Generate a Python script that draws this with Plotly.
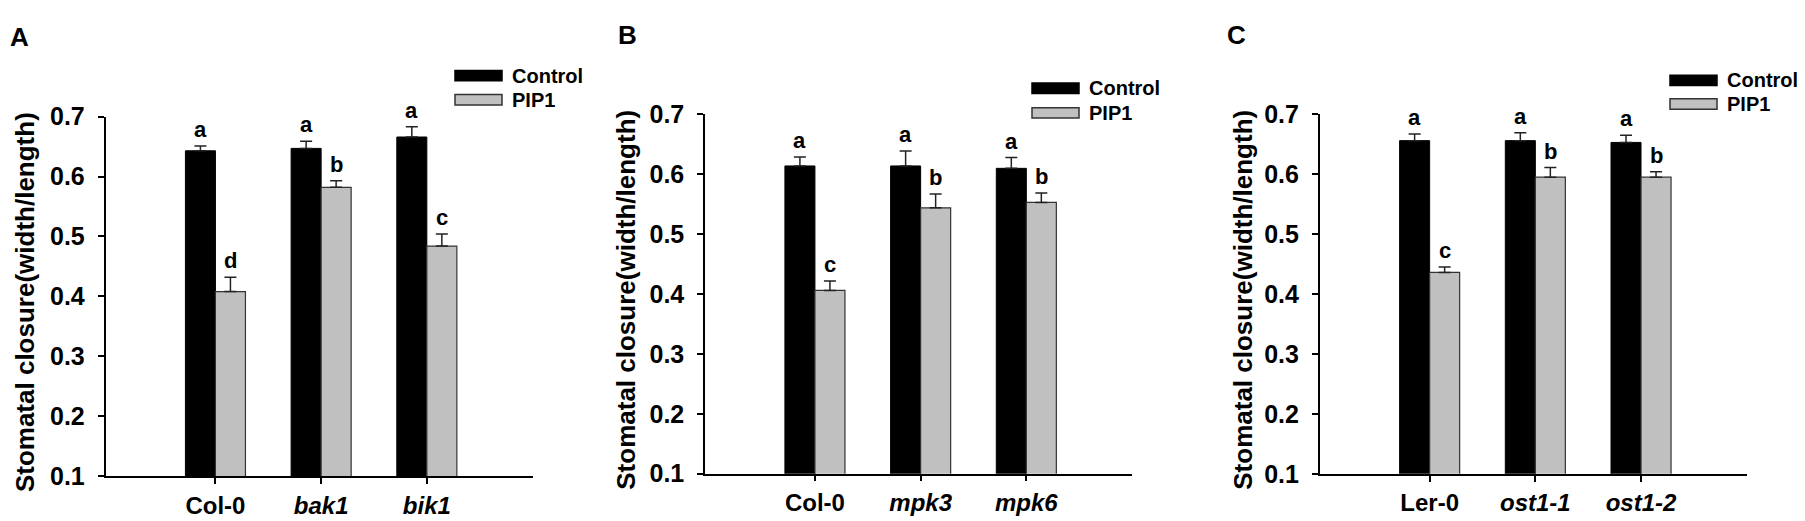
import plotly.graph_objects as go

# panel A
cats_a = ["Col-0", "bak1", "bik1"]
ctrl_a = [0.643, 0.647, 0.666]
ctrl_err_a = [0.008, 0.012, 0.017]
pip_a = [0.408, 0.582, 0.484]
pip_err_a = [0.024, 0.011, 0.020]
ctrl_let_a = ["a", "a", "a"]
pip_let_a = ["d", "b", "c"]

# panel B
cats_b = ["Col-0", "mpk3", "mpk6"]
ctrl_b = [0.614, 0.614, 0.610]
ctrl_err_b = [0.015, 0.025, 0.018]
pip_b = [0.406, 0.544, 0.553]
pip_err_b = [0.016, 0.023, 0.016]
ctrl_let_b = ["a", "a", "a"]
pip_let_b = ["c", "b", "b"]

# panel C
cats_c = ["Ler-0", "ost1-1", "ost1-2"]
ctrl_c = [0.656, 0.656, 0.653]
ctrl_err_c = [0.011, 0.013, 0.012]
pip_c = [0.436, 0.595, 0.595]
pip_err_c = [0.009, 0.016, 0.009]
ctrl_let_c = ["a", "a", "a"]
pip_let_c = ["c", "b", "b"]

wild_types = ["Col-0", "Ler-0"]
y_ticks = [0.1, 0.2, 0.3, 0.4, 0.5, 0.6, 0.7]
y_title = "Stomatal closure(width/length)"

W, H = 1805, 521
FONT = "Liberation Sans, Arial, sans-serif"
GREY = "#c0c0c0"
BARGAP = 0.432
OFF = (1 - BARGAP) / 4

panels = [
    dict(name="A", cats=cats_a, ctrl=ctrl_a, ce=ctrl_err_a, pip=pip_a, pe=pip_err_a,
         cl=ctrl_let_a, pl=pip_let_a, x0=97.5, y0=480.0, y1=100.0,
         lab=(11, 16), leg=(447, 56.7, 82.2), ytit=17),
    dict(name="B", cats=cats_b, ctrl=ctrl_b, ce=ctrl_err_b, pip=pip_b, pe=pip_err_b,
         cl=ctrl_let_b, pl=pip_let_b, x0=697.0, y0=477.3, y1=97.7,
         lab=(619, 14), leg=(1024, 70, 96), ytit=618),
    dict(name="C", cats=cats_c, ctrl=ctrl_c, ce=ctrl_err_c, pip=pip_c, pe=pip_err_c,
         cl=ctrl_let_c, pl=pip_let_c, x0=1311.7, y0=477.5, y1=97.5,
         lab=(1228, 14), leg=(1662, 61.7, 86.7), ytit=1235),
]

SPACING = 105.7
XR = [-1.04, 3.0]

fig = go.Figure()
annotations = []
shapes = []

for k, p in enumerate(panels):
    sfx = "" if k == 0 else str(k + 1)
    xa, ya = "x" + sfx, "y" + sfx
    fig.add_trace(go.Bar(
        x=p["cats"], y=p["ctrl"], name="Control", xaxis=xa, yaxis=ya,
        marker=dict(color="black", line=dict(color="black", width=1)),
        error_y=dict(type="data", array=p["ce"], arrayminus=[0] * 3, symmetric=False,
                     color="#222222", thickness=1.5, width=6),
        showlegend=False))
    fig.add_trace(go.Bar(
        x=p["cats"], y=p["pip"], name="PIP1", xaxis=xa, yaxis=ya,
        marker=dict(color=GREY, line=dict(color="#333333", width=1.2)),
        error_y=dict(type="data", array=p["pe"], arrayminus=[0] * 3, symmetric=False,
                     color="#222222", thickness=1.5, width=6),
        showlegend=False))

    x1 = p["x0"] + (XR[1] - XR[0]) * SPACING
    ticktext = [c if c in wild_types else "<i>" + c + "</i>" for c in p["cats"]]
    fig.layout["xaxis" + sfx] = dict(
        domain=[p["x0"] / W, x1 / W], anchor=ya, type="category",
        range=XR, tickvals=p["cats"], ticktext=ticktext,
        showline=True, linecolor="black", linewidth=1.5,
        ticks="outside", ticklen=6, tickwidth=1.5, tickcolor="black",
        ticklabelstandoff=1,
        tickfont=dict(family=FONT, size=24, color="black", weight="bold"),
        showgrid=False, zeroline=False, fixedrange=True)
    fig.layout["yaxis" + sfx] = dict(
        domain=[1 - p["y0"] / H, 1 - p["y1"] / H], anchor=xa,
        range=[0.1, 0.7], tickvals=y_ticks, tickformat=".1f",
        showline=True, linecolor="black", linewidth=1.5,
        ticks="outside", ticklen=6, tickwidth=1.5, tickcolor="black",
        ticklabelstandoff=8,
        tickfont=dict(family=FONT, size=25, color="black", weight="bold"),
        showgrid=False, zeroline=False, fixedrange=True)

    # y axis title
    annotations.append(dict(
        xref="paper", yref="paper", x=p["ytit"] / W, y=1 - ((p["y0"] + p["y1"]) / 2 + 6) / H,
        text=y_title, textangle=-90, showarrow=False, xanchor="center", yanchor="middle",
        font=dict(family=FONT, size=26, color="black", weight="bold")))

    # significance letters
    for i in range(3):
        for vals, errs, lets, sgn in ((p["ctrl"], p["ce"], p["cl"], -1),
                                      (p["pip"], p["pe"], p["pl"], 1)):
            annotations.append(dict(
                xref=xa, yref=ya, x=i + sgn * OFF, y=vals[i] + errs[i],
                text=lets[i], showarrow=False, xanchor="center", yanchor="bottom",
                yshift=2, font=dict(family=FONT, size=22, color="black", weight="bold")))

    # panel letter
    annotations.append(dict(
        xref="paper", yref="paper", x=p["lab"][0] / W, y=1 - p["lab"][1] / H,
        text=p["name"], showarrow=False, xanchor="center", yanchor="middle",
        font=dict(family=FONT, size=26, color="black", weight="bold")))

    # legend
    lx, cy1, cy2 = p["leg"]
    for cy, fill, line, label in ((cy1, "black", "black", "Control"),
                                  (cy2, GREY, "#333333", "PIP1")):
        shapes.append(dict(type="rect", xref="paper", yref="paper",
                           x0=lx / W, x1=(lx + 47) / W,
                           y0=1 - (cy + 5.5) / H, y1=1 - (cy - 5.5) / H,
                           fillcolor=fill, line=dict(color=line, width=1.5)))
        annotations.append(dict(
            xref="paper", yref="paper", x=(lx + 55) / W, y=1 - cy / H,
            text=label, showarrow=False, xanchor="left", yanchor="middle",
            font=dict(family=FONT, size=20, color="black", weight="bold")))

fig.update_layout(
    width=W, height=H,
    margin=dict(l=0, r=0, t=0, b=0),
    paper_bgcolor="white", plot_bgcolor="white",
    barmode="group", bargap=BARGAP, bargroupgap=0,
    annotations=annotations, shapes=shapes,
)

fig.write_html("out.html")
